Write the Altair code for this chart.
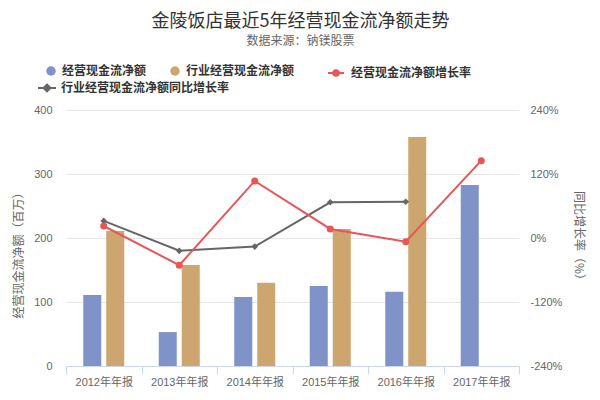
import altair as alt
import pandas as pd

years = ["2012年年报", "2013年年报", "2014年年报", "2015年年报", "2016年年报", "2017年年报"]
own_cf = [111, 53, 108, 125, 116, 283]          # 经营现金流净额（百万）
ind_cf = [211, 158, 130, 214, 358, None]        # 行业经营现金流净额（百万）
own_rate = [22.5, -51, 107, 17, -7, 145]        # 经营现金流净额增长率（%）
ind_rate = [32, -24, -16, 67, 68, None]         # 行业经营现金流净额同比增长率（%）

S1 = "经营现金流净额"
S2 = "行业经营现金流净额"
S3 = "经营现金流净额增长率"
S4 = "行业经营现金流净额同比增长率"

BLUE, BROWN, RED, GRAY = "#7f93c9", "#cda56e", "#e85658", "#666666"
FONT = "'Liberation Sans', 'Noto Sans CJK SC', sans-serif"
CJK = "'Noto Sans CJK SC', sans-serif"

bar_rows = []
for y, a, b in zip(years, own_cf, ind_cf):
    if a is not None:
        bar_rows.append({"year": y, "series": S1, "value": a})
    if b is not None:
        bar_rows.append({"year": y, "series": S2, "value": b})
bars_df = pd.DataFrame(bar_rows)

red_df = pd.DataFrame([{"year": y, "series": S3, "rate": r} for y, r in zip(years, own_rate) if r is not None])
gray_df = pd.DataFrame([{"year": y, "series": S4, "rate": r} for y, r in zip(years, ind_rate) if r is not None])

x_enc = alt.X(
    "year:N", sort=years,
    scale=alt.Scale(domain=years, paddingInner=0, paddingOuter=0),
    axis=alt.Axis(title=None, labelAngle=0, domainColor="#ccd6eb", tickColor="#ccd6eb",
                  tickBand="extent", tickSize=8, labelPadding=2, labelFontSize=11,
                  labelColor="#666666", labelFont=FONT, grid=False),
)

right_axis = alt.Axis(
    orient="right", values=[-240, -120, 0, 120, 240], labelExpr="datum.value + '%'",
    domain=False, ticks=False, grid=False, labelPadding=11, labelFontSize=11,
    labelColor="#666666", labelFont=FONT,
    title="同比增长率（%）", titleFont=CJK, titleFontSize=12, titleFontWeight="normal",
    titleColor="#666666", titlePadding=10, titleAngle=90,
)

legend_common = dict(title=None, orient="none", direction="horizontal", padding=0,
                     labelFont=CJK, labelFontSize=12, labelFontWeight="bold",
                     labelColor="#333333", labelLimit=400)

bar = alt.Chart(bars_df).mark_bar().encode(
    x=x_enc,
    xOffset=alt.XOffset("series:N", scale=alt.Scale(domain=[S1, S2], paddingInner=0.217, paddingOuter=0.75)),
    y=alt.Y("value:Q", scale=alt.Scale(domain=[0, 400]),
            axis=alt.Axis(values=[0, 100, 200, 300, 400], domain=False, ticks=False, grid=True,
                          gridColor="#e6e6e6", labelPadding=14, labelFontSize=11,
                          labelColor="#666666", labelFont=FONT,
                          title="经营现金流净额（百万）", titleFont=CJK, titleFontSize=12,
                          titleFontWeight="normal", titleColor="#666666", titlePadding=8,
                          titleY=142)),
    color=alt.Color("series:N", scale=alt.Scale(domain=[S1, S2], range=[BLUE, BROWN]),
                    legend=alt.Legend(legendX=-21, legendY=-45, symbolType="circle",
                                      symbolSize=90, symbolStrokeWidth=0, labelOffset=5,
                                      columnPadding=22, **legend_common)),
)

red_path = "M-1,0L1,0M0.35,0A0.35,0.35,0,1,1,-0.35,0A0.35,0.35,0,1,1,0.35,0Z"
gray_path = "M-1,0L1,0M0,-0.38L0.38,0L0,0.38L-0.38,0Z"

gray = alt.Chart(gray_df).mark_line(
    strokeWidth=2,
    point=alt.OverlayMarkDef(filled=True, shape="diamond", size=45, opacity=1),
).encode(
    x=alt.X("year:N", sort=years),
    y=alt.Y("rate:Q", scale=alt.Scale(domain=[-240, 240]), axis=right_axis),
    color=alt.Color("series:N", scale=alt.Scale(domain=[S4], range=[GRAY]),
                    legend=alt.Legend(legendX=-29, legendY=-32, symbolType=gray_path,
                                      symbolSize=324, symbolStrokeWidth=2, symbolFillColor=GRAY,
                                      symbolStrokeColor=GRAY, labelOffset=4, **legend_common)),
)

red = alt.Chart(red_df).mark_line(
    strokeWidth=2,
    point=alt.OverlayMarkDef(filled=True, shape="circle", size=50, opacity=1),
).encode(
    x=alt.X("year:N", sort=years),
    y=alt.Y("rate:Q", scale=alt.Scale(domain=[-240, 240]), axis=right_axis),
    color=alt.Color("series:N", scale=alt.Scale(domain=[S3], range=[RED]),
                    legend=alt.Legend(legendX=261, legendY=-46, symbolType=red_path,
                                      symbolSize=256, symbolStrokeWidth=2, symbolFillColor=RED,
                                      symbolStrokeColor=RED, labelOffset=6, **legend_common)),
)

lines = alt.layer(gray, red).resolve_scale(color="independent")

chart = alt.layer(bar, lines).resolve_scale(y="independent", color="independent").properties(
    width=453, height=256,
    autosize=alt.AutoSizeParams(type="none"),
    padding={"left": 58, "top": 102, "right": 70, "bottom": 24},
    title=alt.Title("金陵饭店最近5年经营现金流净额走势", subtitle="数据来源：钠镁股票",
                    fontSize=18, color="#333333", font=CJK, fontWeight="normal",
                    subtitleFont=CJK, subtitleFontSize=12, subtitleColor="#666666",
                    subtitlePadding=5, anchor="middle", frame="group", dx=8, offset=17),
).configure_view(stroke=None)

chart.save("out.html", embed_options={"renderer": "svg", "actions": False})
